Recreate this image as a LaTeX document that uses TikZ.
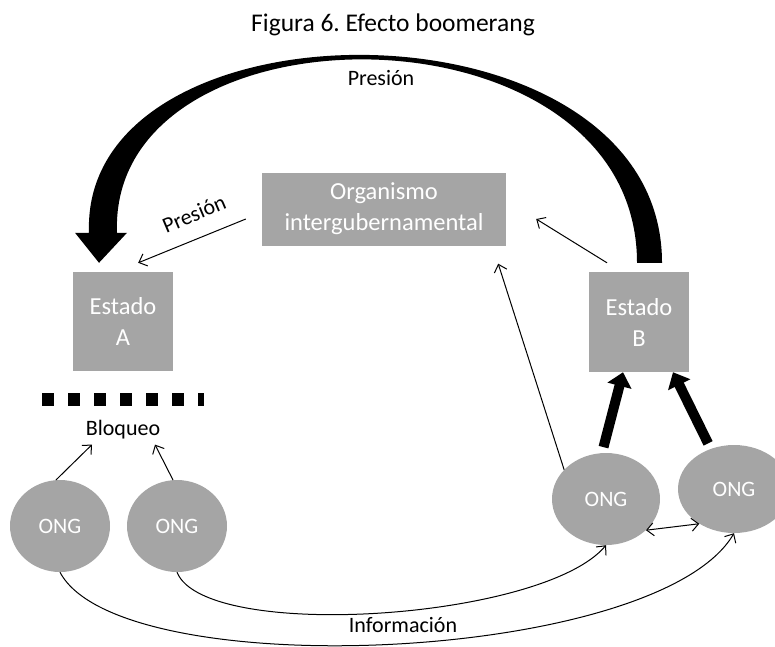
\documentclass[tikz,border=0pt]{standalone}
\usepackage{fontspec}
\setmainfont{Carlito}
\usepackage{tikz}
\usetikzlibrary{
    arrows.meta,
    shapes.geometric
}

\definecolor{boxgray}{RGB}{165,165,165}
\frenchspacing

\begin{document}
\begin{tikzpicture}[
        x=1pt, y=-1pt,
        box/.style={fill=boxgray, text=white, align=center, inner sep=0pt, font=\fontsize{24.5}{31}\selectfont},
        ong/.style={ellipse, fill=boxgray, text=white, inner sep=0pt, font=\fontsize{22}{26}\selectfont},
        lbl/.style={inner sep=0pt, font=\fontsize{22}{26}\selectfont},
        thinarrow/.style={line width=1pt, -{Straight Barb[length=7pt, width=13pt]}},
        twoway/.style={line width=1pt, {Straight Barb[length=7pt, width=13pt]}-{Straight Barb[length=7pt, width=13pt]}},
        fatarrow/.style={line width=10pt, shorten <=6pt, -{Triangle[length=14pt, width=24pt]}}
      ]
      \useasboundingbox (0,0) rectangle (775,646);

      \node[lbl, font=\fontsize{25.5}{30}\selectfont] (title) at (393,25) {Figura 6. Efecto boomerang};

      \node[box, minimum width=244pt, minimum height=73pt] (org) at (384,209) {Organismo\\intergubernamental};
      \node[box, minimum width=100pt, minimum height=99pt] (estA) at (123,321.5) {Estado\\A};
      \node[box, minimum width=100pt, minimum height=100pt] (estB) at (639,322) {Estado\\B};

      \node[ong, minimum width=100pt, minimum height=92pt] (ong1) at (60,526) {ONG};
      \node[ong, minimum width=100pt, minimum height=92pt] (ong2) at (177,526) {ONG};
      \node[ong, minimum width=108pt, minimum height=92pt] (ong3) at (606,499) {ONG};
      \node[ong, minimum width=112pt, minimum height=88pt] (ong4) at (734,489) {ONG};

      \node[lbl] (bloq) at (123,430) {Bloqueo};
      \node[lbl] (presTop) at (381,78) {Presión};
      \node[lbl, rotate=23] (presA) at (194,214) {Presión};
      \node[lbl] (info) at (403,625) {Información};

      % boomerang: B -> A
      \fill ([shift={(23,-9)}]estB.north) .. controls +(0,-272) and +(-9,-242) .. ([shift={(-34,-39)}]estA.north)
        -- ++(-14,0) -- ([shift={(-24,-9)}]estA.north) -- ([shift={(4,-39)}]estA.north) -- ++(-10,0)
        .. controls +(-9,-236) and +(0,-266) .. ([shift={(-2,-9)}]estB.north) -- cycle;

      % Bloqueo
      \draw[line width=13pt, dash pattern=on 12pt off 14pt] (42,399.5) -- (204,399.5);

      \draw[thinarrow] ([shift={(-16,10)}]org.west) -- ([shift={(-35,-9)}]estA.north east);
      \draw[thinarrow] ([shift={(-32,-9)}]estB.north) -- ([shift={(30,10)}]org.east);
      \draw[thinarrow] (ong3.145) -- ([shift={(-8,18)}]org.south east);

      \draw[thinarrow] (ong1.95) -- ([shift={(-31,5)}]bloq.south);
      \draw[thinarrow] (ong2.95) -- ([shift={(32,5)}]bloq.south);

      \draw[fatarrow] (ong3.95) -- ([xshift=-16pt]estB.south);
      \draw[fatarrow] (ong4.120) -- ([xshift=34pt]estB.south);
      \draw[twoway] (ong3.-38) -- (ong4.-135);

      \draw[thinarrow] (ong2.south) .. controls +(28,70) and +(-63,75) .. (ong3.south);
      \draw[thinarrow] (ong1.south) .. controls +(60,114) and +(-76,130) .. (ong4.south);
    \end{tikzpicture}
\end{document}
